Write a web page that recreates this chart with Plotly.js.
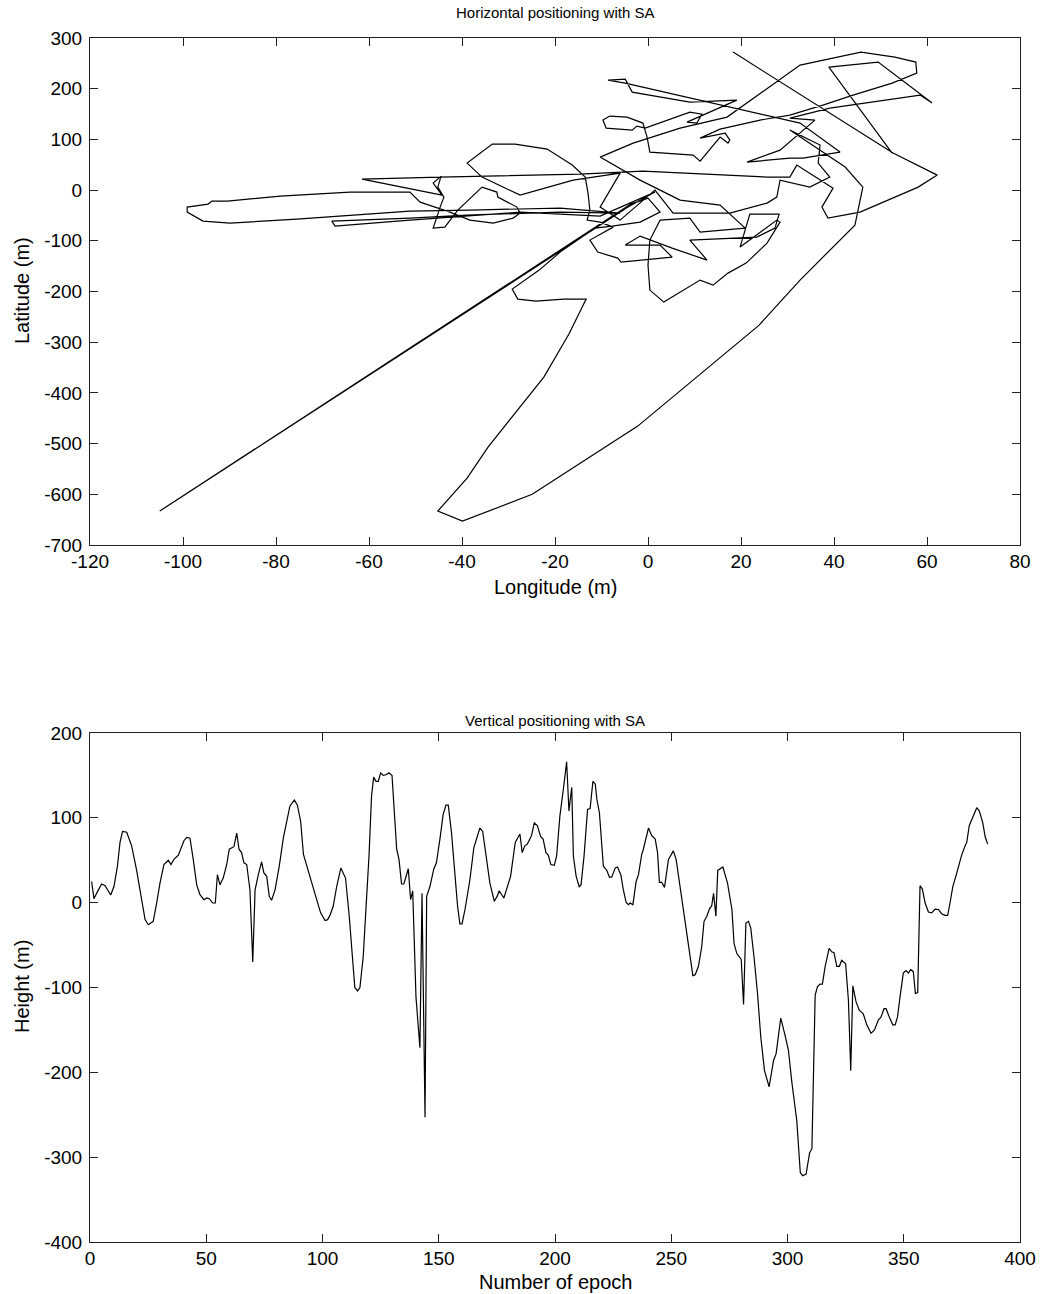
<!DOCTYPE html>
<html>
<head>
<meta charset="utf-8">
<script src="https://cdn.plot.ly/plotly-3.0.1.min.js"></script>
<style>
  html, body { margin: 0; padding: 0; background: #fff; }
  #chart { width: 1041px; height: 1294px; }
</style>
</head>
<body>
<div id="chart"></div>
<script>
// Horizontal track: longitude / latitude offsets (m), in epoch order
const lonValues = [18.3, 52.7, 62.2, 58.1, 45.6, 38.7, 37.4, 39.8, 32.0, 30.5,
  25.6, 11.2, -1.1, -14.6, -27.5, -44.7, -61.5, -51.2, -44.3, -46.2,
  -44.5, -45.2, -43.9, -44.7, -46.2, -43.7, -40.9, -35.7, -32.5, -32.3,
  -28.2, -27.5, -29.0, -33.3, -38.3, -42.6, -49.0, -51.2, -64.1, -79.1,
  -90.5, -93.8, -94.6, -99.1, -99.1, -95.7, -89.9, -75.5, -66.9, -57.0,
  -51.2, -38.3, -27.5, -18.9, -6.0, -18.9, -38.9, -51.2, -68.0, -67.3,
  -51.2, -27.5, -10.3, 1.5, -4.3, -105.0, -3.7, 0.0, 2.6, -1.7,
  -7.7, -11.4, -18.9, -23.4, -29.2, -28.0, -24.1, -18.1, -13.3, -17.0,
  -22.4, -34.4, -38.9, -45.2, -39.9, -24.9, -2.2, 23.9, 32.7, 44.5,
  46.2, 42.4, 30.5, 37.0, 36.6, 39.1, 34.8, 28.4, 27.7, 25.6,
  17.6, 5.4, 1.5, -6.0, -10.3, -6.0, -16.1, -27.5, -35.7, -38.9,
  -33.5, -28.6, -21.7, -16.3, -13.5, -12.9, -12.5, -13.1, -10.3, -7.5,
  -12.5, -10.8, -6.5, -5.8, 5.2, 2.6, -4.9, -1.7, 5.2, 12.7,
  9.0, 23.4, 27.3, 28.2, 21.9, 19.8, 27.7, 28.4, 25.6, 21.1,
  17.2, 14.0, 11.2, 3.4, 0.4, 0.0, 0.4, 2.6, 9.0, 11.2,
  20.9, 15.5, 6.9, -1.7, -10.3, -3.2, 6.9, 17.0, 32.7, 45.8,
  53.1, 57.6, 57.8, 52.5, 44.1, 37.6, 30.5, 24.1, 15.5, 11.2,
  16.6, 17.6, 17.2, 15.5, 11.2, 9.7, 0.4, -0.2, -1.1, -4.5,
  -8.2, -9.7, -9.0, -3.4, -2.4, -0.6, 9.0, 11.6, 10.5, 8.4,
  19.1, 9.0, -3.4, -4.9, -8.6, -4.9, 32.7, 41.3, 33.3, 30.5,
  21.3, 28.4, 35.9, 30.5, 39.1, 58.5, 61.1, 49.5, 38.9, 52.5];

const latValues = [272.2, 73.0, 29.6, 5.9, -43.4, -55.2, -33.5, 3.9, 49.3, 25.6,
  25.6, 31.6, 37.5, 31.6, 29.6, 25.6, 21.7, 2.0, -9.9, 13.8,
  27.6, 5.9, -13.8, -33.5, -75.0, -73.0, -39.4, 5.9, -3.9, -13.8,
  -33.5, -45.4, -55.2, -65.1, -59.2, -43.4, -23.7, -3.9, -3.9, -11.8,
  -21.7, -21.7, -27.6, -33.5, -43.4, -61.1, -65.1, -57.2, -51.3, -45.4,
  -41.4, -39.4, -37.5, -35.5, -45.4, -43.4, -49.3, -55.2, -61.1, -71.0,
  -59.2, -43.4, -51.3, -3.9, -33.5, -633, -27.6, -15.8, -43.4, -63.1,
  -71.0, -75.0, -122.3, -157.8, -195.3, -215.0, -218.9, -215.0, -215.0, -284.0,
  -368.8, -506.9, -568.0, -633, -653, -600, -465.5, -266.3, -177.5, -69.0,
  5.9, 45.4, 118.3, 88.8, 53.3, 25.6, 5.9, 19.7, -13.8, -25.6,
  -45.4, -45.4, 0, -59.2, -33.5, 33.5, 19.7, -9.9, 25.6, 53.3,
  90.7, 90.7, 80.9, 49.3, 25.6, -5.9, -39.4, -59.2, -63.1, -73.0,
  -98.6, -122.3, -134.1, -142.0, -132.2, -108.5, -108.5, -90.7, -114.4, -138.1,
  -98.6, -92.7, -75.0, -47.3, -47.3, -112.4, -59.2, -63.1, -104.5, -144.0,
  -163.7, -187.4, -177.5, -220.9, -197.2, -147.9, -98.6, -59.2, -55.2, -82.8,
  -75.0, -29.6, -19.7, 19.7, 65.1, 92.7, 122.3, 144.0, 246.6, 272.2,
  262.3, 252.5, 230.8, 211.0, 187.4, 167.7, 147.9, 138.1, 120.3, 102.6,
  112.4, 98.6, 92.7, 104.5, 57.2, 69.0, 75.0, 104.5, 132.2, 144.0,
  146.0, 138.1, 122.3, 118.3, 126.2, 122.3, 153.8, 149.9, 132.2, 134.1,
  177.5, 173.6, 193.3, 218.9, 217.0, 211.0, 132.2, 75.0, 63.1, 63.1,
  55.2, 78.9, 138.1, 142.0, 161.7, 187.4, 171.6, 252.5, 242.6, 73.0];

// Vertical solution: epoch number and height offset (m)
const epochValues = [0.7, 1.7, 3.2, 5, 6.5, 8.9, 10.3, 11.8, 12.9, 14,
  15.8, 17.9, 20, 22.2, 23.7, 25.1, 27.2, 28.7, 30.1, 31.8,
  33.7, 34.8, 36.1, 38, 40.4, 41.6, 43, 44.4, 45.9, 47.3,
  49, 50.2, 51.3, 52.8, 53.9, 54.8, 55.9, 57.3, 58.8, 59.9,
  61.9, 63.1, 64.1, 65.2, 66.2, 67.4, 68.8, 70, 71, 72.4,
  73.8, 74.8, 76, 77.1, 78.1, 79.6, 81.4, 83.2, 84.6, 86,
  87.9, 89.2, 90.6, 91.8, 93.5, 95.3, 97.5, 99.2, 101.1, 102.2,
  103.2, 104.6, 106.1, 107.9, 109.9, 111.5, 112.9, 113.9, 115.1, 116.1,
  117.5, 119, 120, 121.1, 122, 123, 124, 125, 126.1, 127.6,
  128.6, 129.9, 130.9, 131.9, 132.9, 134, 135, 136.9, 137.9, 138.8,
  140.2, 141.9, 142.8, 144.1, 144.8, 146.2, 147.9, 149, 150.5, 151.9,
  153.1, 154.1, 155.5, 157, 158.1, 159.1, 160, 161.3, 163.4, 165.1,
  166.6, 167.7, 168.9, 170.3, 172, 173.9, 175.2, 176, 177, 178,
  179.2, 180.9, 182.9, 184.9, 185.9, 187, 188.1, 189.9, 191.1, 192.4,
  193.8, 194.9, 196.1, 197.1, 198.2, 199.7, 200.7, 202.1, 203.6, 205,
  206, 206.5, 207.2, 207.9, 209.1, 210.4, 211.2, 212.5, 214, 215.1,
  216.3, 217.3, 218, 219.1, 220.8, 222.3, 223.4, 224.4, 225.9, 226.9,
  228.3, 229.4, 230.6, 231.6, 232.3, 233.5, 234.9, 235.9, 237.3, 238,
  240.2, 241.6, 243.1, 244.1, 244.9, 245.9, 247.1, 248.8, 250.9, 252.1,
  253.8, 256, 257.4, 259.3, 260.3, 261.7, 263.1, 264.1, 265.3, 266.4,
  267.4, 268.2, 269.2, 270, 272.2, 274.2, 276.1, 277, 278.2, 280.1,
  281.1, 282.1, 283.2, 284.2, 285.6, 287.1, 288.5, 290.1, 292.1, 294,
  295.1, 297.1, 299, 300.4, 301.8, 304, 305.5, 306.5, 308, 309.5,
  310.5, 311.9, 312.9, 314, 315, 316.2, 317.9, 319, 320, 321.2,
  322.3, 323.3, 325, 326.2, 327.2, 328.1, 329.5, 330.9, 332.6, 334.1,
  335.9, 337.4, 339.1, 340.2, 341.5, 342.4, 343.8, 345.3, 346.3, 347.3,
  348.4, 349.8, 351, 352, 353, 354.1, 355, 356, 357, 358,
  359.2, 360.6, 362, 363.5, 364.9, 366.3, 367.8, 368.9, 369.9, 371.1,
  372.4, 373.5, 374.9, 376.4, 377.1, 378.2, 380, 381.4, 382.5, 384,
  385, 386.1];

const heightValues = [25, 4.7, 13, 22, 20, 9, 19, 43, 71, 84,
  83, 67, 39, 3.5, -20, -26, -22, 0, 23, 45,
  50, 45, 51, 56, 73, 77, 76, 51, 21, 9.5,
  3.5, 5.5, 4.7, -0.4, -0.4, 33, 21, 29, 45, 63,
  66, 82, 63, 59, 47, 45, 15, -70, 15, 33,
  48, 35, 31, 7.5, 2.8, 15, 43, 77, 96, 114,
  121, 115, 96, 57, 41, 23, 3.5, -12, -21, -20,
  -15, -4.3, 19, 41, 29, -16, -64, -100, -104, -100,
  -64, -0.4, 55, 126, 148, 143, 143, 153, 150, 151,
  153, 150, 102, 63, 51, 22, 22, 40, 3.5, 14,
  -111, -171, 11, -253, 7.5, 19, 40, 47, 75, 104,
  115, 115, 82, 31, -4.3, -25, -25, -8, 27, 65,
  80, 88, 84, 55, 23, 1.6, 8, 14, 10, 5.5,
  16, 31, 71, 81, 59, 67, 69, 79, 94, 91,
  78, 75, 59, 56, 45, 44, 55, 102, 134, 166,
  108, 118, 136, 55, 31, 19, 21, 55, 110, 111,
  143, 140, 122, 106, 43, 38, 30, 30, 41, 42,
  33, 15, 0.4, -2.4, -0.4, -2.4, 25, 33, 57, 63,
  88, 79, 75, 59, 24, 24, 18, 51, 61, 51,
  19, -20, -52, -86, -85, -75, -52, -22, -16, -7.5,
  -3.6, 11, -16, 38, 42, 23, -8, -48, -60, -67,
  -120, -24, -22, -30, -64, -107, -158, -198, -217, -186,
  -178, -136, -157, -174, -210, -257, -318, -322, -320, -295,
  -290, -109, -99, -96, -96, -75, -54, -58, -59, -75,
  -75, -68, -72, -115, -198, -98, -117, -127, -131, -144,
  -154, -150, -138, -135, -125, -125, -135, -144, -144, -135,
  -111, -83, -80, -83, -79, -81, -107, -106, 20, 16,
  -0.4, -11, -12, -7.5, -8, -13, -15, -15, -0.4, 19,
  31, 43, 56, 67, 71, 91, 102, 112, 108, 94,
  78, 69];

// Tick positions for the four axes
const lonTicks = [-120, -100, -80, -60, -40, -20, 0, 20, 40, 60, 80];
const latTicks = [-700, -600, -500, -400, -300, -200, -100, 0, 100, 200, 300];
const epochTicks = [0, 50, 100, 150, 200, 250, 300, 350, 400];
const heightTicks = [-400, -300, -200, -100, 0, 100, 200];

const titleTop = 'Horizontal positioning with SA';
const titleBottom = 'Vertical positioning with SA';
const labelLon = 'Longitude (m)';
const labelLat = 'Latitude (m)';
const labelEpoch = 'Number of epoch';
const labelHeight = 'Height (m)';

const W = 1041, H = 1294;
const px = v => v / W;          // pixel column -> paper x
const py = v => 1 - v / H;      // pixel row -> paper y

const FONT = 'Liberation Sans, Arial, Helvetica, sans-serif';

// plain hyphen for negative numbers in tick labels
const asLabels = vals => vals.map(v => String(v));

const axisCommon = {
  showgrid: false,
  zeroline: false,
  showline: true,
  mirror: 'ticks',
  linecolor: '#222',
  linewidth: 1,
  ticks: 'inside',
  ticklen: 8,
  tickwidth: 1,
  tickcolor: '#222',
  tickmode: 'array',
  tickfont: { family: FONT, size: 19, color: '#000' },
  automargin: false,
  fixedrange: true
};
const xAxisBase = Object.assign({}, axisCommon, { ticklabelstandoff: -1 });
const yAxisBase = Object.assign({}, axisCommon, { ticklabelstandoff: 3 });

const traces = [
  {
    x: lonValues, y: latValues,
    xaxis: 'x', yaxis: 'y',
    type: 'scatter', mode: 'lines',
    line: { color: '#000', width: 1.2 },
    hoverinfo: 'skip'
  },
  {
    x: epochValues, y: heightValues,
    xaxis: 'x2', yaxis: 'y2',
    type: 'scatter', mode: 'lines',
    line: { color: '#000', width: 1.2 },
    hoverinfo: 'skip'
  }
];

const layout = {
  width: W, height: H,
  margin: { l: 0, r: 0, t: 0, b: 0 },
  paper_bgcolor: '#fff',
  plot_bgcolor: '#fff',
  showlegend: false,
  font: { family: FONT, color: '#000' },
  xaxis: Object.assign({}, xAxisBase, {
    domain: [px(90), px(1020)], anchor: 'y',
    range: [-120, 80], tickvals: lonTicks, ticktext: asLabels(lonTicks)
  }),
  yaxis: Object.assign({}, yAxisBase, {
    domain: [py(545), py(38)], anchor: 'x',
    range: [-700, 300], tickvals: latTicks, ticktext: asLabels(latTicks)
  }),
  xaxis2: Object.assign({}, xAxisBase, {
    domain: [px(90), px(1020)], anchor: 'y2',
    range: [0, 400], tickvals: epochTicks, ticktext: asLabels(epochTicks)
  }),
  yaxis2: Object.assign({}, yAxisBase, {
    domain: [py(1242), py(733)], anchor: 'x2',
    range: [-400, 200], tickvals: heightTicks, ticktext: asLabels(heightTicks)
  }),
  annotations: [
    { text: titleTop, x: px(555), y: py(12), font: { size: 15 } },
    { text: labelLon, x: px(555), y: py(587), font: { size: 20 } },
    { text: labelLat, x: px(22), y: py(291), textangle: -90, font: { size: 20 } },
    { text: titleBottom, x: px(555), y: py(720), font: { size: 15 } },
    { text: labelEpoch, x: px(555), y: py(1282), font: { size: 20 } },
    { text: labelHeight, x: px(22), y: py(987), textangle: -90, font: { size: 20 } }
  ].map(a => Object.assign({
    xref: 'paper', yref: 'paper', showarrow: false,
    xanchor: 'center', yanchor: 'middle'
  }, a, { font: Object.assign({ family: FONT, color: '#000' }, a.font) }))
};

Plotly.newPlot('chart', traces, layout, { staticPlot: true, displayModeBar: false });
</script>
</body>
</html>
